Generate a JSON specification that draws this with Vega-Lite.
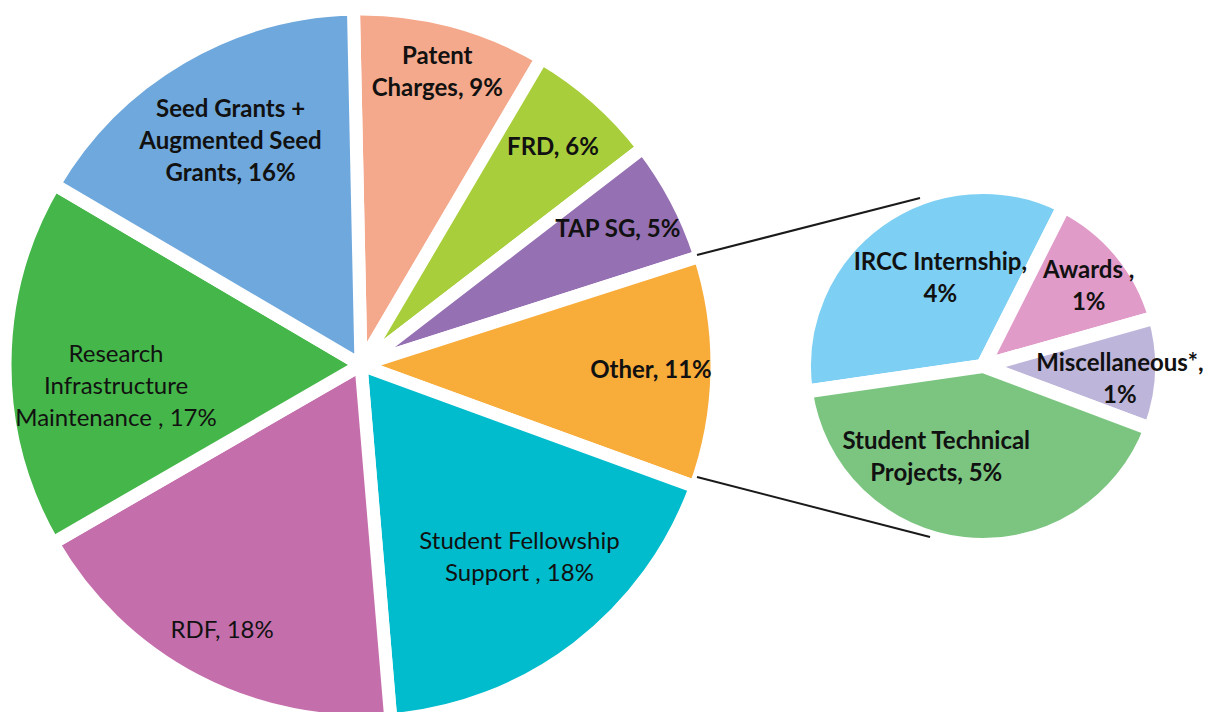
{
  "$schema": "https://vega.github.io/schema/vega-lite/v6.json",
  "width": 1226,
  "height": 712,
  "autosize": "none",
  "padding": 0,
  "background": "white",
  "config": {"view": {"stroke": null}, "text": {"font": "Lato", "fontSize": 24, "lineHeight": 32, "color": "#111111", "align": "center", "baseline": "middle", "lineBreak": "\n"}},
  "datasets": {
    "main": [
      {"pie": "Main", "rank": 1, "item": "Patent Charges", "label": "Patent\nCharges, 9%", "value": 8.8},
      {"pie": "Main", "rank": 2, "item": "FRD", "label": "FRD, 6%", "value": 6.1},
      {"pie": "Main", "rank": 3, "item": "TAP SG", "label": "TAP SG, 5%", "value": 5.5},
      {"pie": "Main", "rank": 4, "item": "Other", "label": "Other, 11%", "value": 10.5},
      {"pie": "Main", "rank": 5, "item": "Student Fellowship Support", "label": "Student Fellowship\nSupport , 18%", "value": 18.1},
      {"pie": "Main", "rank": 6, "item": "RDF", "label": "RDF, 18%", "value": 18.0},
      {"pie": "Main", "rank": 7, "item": "Research Infrastructure Maintenance", "label": "Research\nInfrastructure\nMaintenance , 17%", "value": 16.8},
      {"pie": "Main", "rank": 8, "item": "Seed Grants + Augmented Seed Grants", "label": "Seed Grants +\nAugmented Seed\nGrants, 16%", "value": 16.2}
    ],
    "detail": [
      {"pie": "Detail", "rank": 1, "item": "IRCC Internship", "label": "IRCC Internship,\n4%", "value": 3.82},
      {"pie": "Detail", "rank": 2, "item": "Awards", "label": "Awards ,\n1%", "value": 1.45},
      {"pie": "Detail", "rank": 3, "item": "Miscellaneous*", "label": "Miscellaneous*,\n1%", "value": 1.11},
      {"pie": "Detail", "rank": 4, "item": "Student Technical Projects", "label": "Student Technical\nProjects, 5%", "value": 4.62}
    ],
    "upperLink": [
      {"anchor": "Other slice, upper corner"},
      {"anchor": "Detail pie, top"}
    ],
    "lowerLink": [
      {"anchor": "Other slice, lower corner"},
      {"anchor": "Detail pie, bottom"}
    ]
  },
  "resolve": {"scale": {"x": "independent", "y": "independent", "theta": "independent"}},
  "layer": [
    {
      "data": {"name": "main"},
      "mark": {"type": "arc", "radius": 356, "stroke": "white", "strokeWidth": 13, "strokeJoin": "round"},
      "encoding": {
        "x": {"field": "pie", "type": "nominal", "scale": {"type": "point", "domain": ["Main", "Detail"], "range": [361, 983], "padding": 0}, "axis": null},
        "y": {"field": "pie", "type": "nominal", "scale": {"type": "point", "domain": ["Main", "Detail"], "range": [365, 366], "padding": 0}, "axis": null},
        "theta": {"field": "value", "type": "quantitative", "stack": true, "scale": {"range": [-0.021, 6.262]}},
        "order": {"field": "rank", "type": "quantitative"},
        "color": {
          "field": "item", "type": "nominal", "legend": null,
          "scale": {
            "domain": ["Patent Charges", "FRD", "TAP SG", "Other", "Student Fellowship Support", "RDF", "Research Infrastructure Maintenance", "Seed Grants + Augmented Seed Grants", "IRCC Internship", "Awards", "Miscellaneous*", "Student Technical Projects"],
            "range": ["#F5A98C", "#A8CE3B", "#9570B3", "#F8AC3A", "#00BCCC", "#C46FAC", "#45B649", "#6FA8DC", "#7DCFF3", "#E09BC8", "#BEB5DA", "#7CC581"]
          }
        }
      }
    },
    {
      "data": {"name": "detail"},
      "mark": {"type": "arc", "radius": 179, "stroke": "white", "strokeWidth": 14, "strokeJoin": "round"},
      "encoding": {
        "x": {"field": "pie", "type": "nominal", "scale": {"type": "point", "domain": ["Main", "Detail"], "range": [361, 983], "padding": 0}, "axis": null},
        "y": {"field": "pie", "type": "nominal", "scale": {"type": "point", "domain": ["Main", "Detail"], "range": [365, 366], "padding": 0}, "axis": null},
        "theta": {"field": "value", "type": "quantitative", "stack": true, "scale": {"range": [4.569, 10.852]}},
        "order": {"field": "rank", "type": "quantitative"},
        "color": {"field": "item", "type": "nominal", "legend": null}
      }
    },
    {
      "data": {"name": "main"},
      "mark": {"type": "text", "radius": 290, "fontWeight": "bold"},
      "encoding": {
        "x": {"field": "pie", "type": "nominal", "scale": {"type": "point", "domain": ["Main", "Detail"], "range": [361, 983], "padding": 0}, "axis": null},
        "y": {"field": "pie", "type": "nominal", "scale": {"type": "point", "domain": ["Main", "Detail"], "range": [365, 366], "padding": 0}, "axis": null},
        "theta": {"field": "value", "type": "quantitative", "stack": true, "scale": {"range": [-0.021, 6.262]}},
        "order": {"field": "rank", "type": "quantitative"},
        "detail": {"field": "item", "type": "nominal"},
        "text": {"condition": {"test": "indexof(['FRD','TAP SG','Other'], datum.item) >= 0", "field": "label"}, "value": ""}
      }
    },
    {
      "data": {"name": "main"},
      "mark": {"type": "text", "radius": 302, "fontWeight": "bold", "dy": -16},
      "encoding": {
        "x": {"field": "pie", "type": "nominal", "scale": {"type": "point", "domain": ["Main", "Detail"], "range": [361, 983], "padding": 0}, "axis": null},
        "y": {"field": "pie", "type": "nominal", "scale": {"type": "point", "domain": ["Main", "Detail"], "range": [365, 366], "padding": 0}, "axis": null},
        "theta": {"field": "value", "type": "quantitative", "stack": true, "scale": {"range": [-0.021, 6.262]}},
        "order": {"field": "rank", "type": "quantitative"},
        "detail": {"field": "item", "type": "nominal"},
        "text": {"condition": {"test": "datum.item === 'Patent Charges'", "field": "label"}, "value": ""}
      }
    },
    {
      "data": {"name": "main"},
      "mark": {"type": "text", "radius": 300, "fontWeight": "normal"},
      "encoding": {
        "x": {"field": "pie", "type": "nominal", "scale": {"type": "point", "domain": ["Main", "Detail"], "range": [361, 983], "padding": 0}, "axis": null},
        "y": {"field": "pie", "type": "nominal", "scale": {"type": "point", "domain": ["Main", "Detail"], "range": [365, 366], "padding": 0}, "axis": null},
        "theta": {"field": "value", "type": "quantitative", "stack": true, "scale": {"range": [-0.021, 6.262]}},
        "order": {"field": "rank", "type": "quantitative"},
        "detail": {"field": "item", "type": "nominal"},
        "text": {"condition": {"test": "datum.item === 'RDF'", "field": "label"}, "value": ""}
      }
    },
    {
      "data": {"name": "main"},
      "mark": {"type": "text", "radius": 261, "fontWeight": "normal", "dy": -30},
      "encoding": {
        "x": {"field": "pie", "type": "nominal", "scale": {"type": "point", "domain": ["Main", "Detail"], "range": [361, 983], "padding": 0}, "axis": null},
        "y": {"field": "pie", "type": "nominal", "scale": {"type": "point", "domain": ["Main", "Detail"], "range": [365, 366], "padding": 0}, "axis": null},
        "theta": {"field": "value", "type": "quantitative", "stack": true, "scale": {"range": [-0.021, 6.262]}},
        "order": {"field": "rank", "type": "quantitative"},
        "detail": {"field": "item", "type": "nominal"},
        "text": {"condition": {"test": "datum.item === 'Student Fellowship Support'", "field": "label"}, "value": ""}
      }
    },
    {
      "data": {"name": "main"},
      "mark": {"type": "text", "radius": 245, "fontWeight": "normal", "dy": -9},
      "encoding": {
        "x": {"field": "pie", "type": "nominal", "scale": {"type": "point", "domain": ["Main", "Detail"], "range": [361, 983], "padding": 0}, "axis": null},
        "y": {"field": "pie", "type": "nominal", "scale": {"type": "point", "domain": ["Main", "Detail"], "range": [365, 366], "padding": 0}, "axis": null},
        "theta": {"field": "value", "type": "quantitative", "stack": true, "scale": {"range": [-0.021, 6.262]}},
        "order": {"field": "rank", "type": "quantitative"},
        "detail": {"field": "item", "type": "nominal"},
        "text": {"condition": {"test": "datum.item === 'Research Infrastructure Maintenance'", "field": "label"}, "value": ""}
      }
    },
    {
      "data": {"name": "main"},
      "mark": {"type": "text", "radius": 258, "fontWeight": "bold", "dy": -32},
      "encoding": {
        "x": {"field": "pie", "type": "nominal", "scale": {"type": "point", "domain": ["Main", "Detail"], "range": [361, 983], "padding": 0}, "axis": null},
        "y": {"field": "pie", "type": "nominal", "scale": {"type": "point", "domain": ["Main", "Detail"], "range": [365, 366], "padding": 0}, "axis": null},
        "theta": {"field": "value", "type": "quantitative", "stack": true, "scale": {"range": [-0.021, 6.262]}},
        "order": {"field": "rank", "type": "quantitative"},
        "detail": {"field": "item", "type": "nominal"},
        "text": {"condition": {"test": "datum.item === 'Seed Grants + Augmented Seed Grants'", "field": "label"}, "value": ""}
      }
    },
    {
      "data": {"name": "detail"},
      "mark": {"type": "text", "radius": 97, "fontWeight": "bold", "dy": -24, "dx": 14},
      "encoding": {
        "x": {"field": "pie", "type": "nominal", "scale": {"type": "point", "domain": ["Main", "Detail"], "range": [361, 983], "padding": 0}, "axis": null},
        "y": {"field": "pie", "type": "nominal", "scale": {"type": "point", "domain": ["Main", "Detail"], "range": [365, 366], "padding": 0}, "axis": null},
        "theta": {"field": "value", "type": "quantitative", "stack": true, "scale": {"range": [4.569, 10.852]}},
        "order": {"field": "rank", "type": "quantitative"},
        "detail": {"field": "item", "type": "nominal"},
        "text": {"condition": {"test": "datum.item === 'IRCC Internship'", "field": "label"}, "value": ""}
      }
    },
    {
      "data": {"name": "detail"},
      "mark": {"type": "text", "radius": 100, "fontWeight": "bold", "dy": -23, "dx": -36},
      "encoding": {
        "x": {"field": "pie", "type": "nominal", "scale": {"type": "point", "domain": ["Main", "Detail"], "range": [361, 983], "padding": 0}, "axis": null},
        "y": {"field": "pie", "type": "nominal", "scale": {"type": "point", "domain": ["Main", "Detail"], "range": [365, 366], "padding": 0}, "axis": null},
        "theta": {"field": "value", "type": "quantitative", "stack": true, "scale": {"range": [4.569, 10.852]}},
        "order": {"field": "rank", "type": "quantitative"},
        "detail": {"field": "item", "type": "nominal"},
        "text": {"condition": {"test": "datum.item === 'Student Technical Projects'", "field": "label"}, "value": ""}
      }
    },
    {
      "data": {"name": "detail"},
      "mark": {"type": "text", "radius": 137, "fontWeight": "bold", "dy": -8},
      "encoding": {
        "x": {"field": "pie", "type": "nominal", "scale": {"type": "point", "domain": ["Main", "Detail"], "range": [361, 983], "padding": 0}, "axis": null},
        "y": {"field": "pie", "type": "nominal", "scale": {"type": "point", "domain": ["Main", "Detail"], "range": [365, 366], "padding": 0}, "axis": null},
        "theta": {"field": "value", "type": "quantitative", "stack": true, "scale": {"range": [4.569, 10.852]}},
        "order": {"field": "rank", "type": "quantitative"},
        "detail": {"field": "item", "type": "nominal"},
        "text": {"condition": {"test": "indexof(['Awards','Miscellaneous*'], datum.item) >= 0", "field": "label"}, "value": ""}
      }
    },
    {
      "data": {"name": "upperLink"},
      "mark": {"type": "line", "color": "#1a1a1a", "strokeWidth": 2},
      "encoding": {
        "x": {"field": "anchor", "type": "nominal", "sort": null, "scale": {"type": "point", "domain": ["Other slice, upper corner", "Detail pie, top"], "range": [697, 920], "padding": 0}, "axis": null},
        "y": {"field": "anchor", "type": "nominal", "sort": null, "scale": {"type": "point", "domain": ["Other slice, upper corner", "Detail pie, top"], "range": [255, 198], "padding": 0}, "axis": null}
      }
    },
    {
      "data": {"name": "lowerLink"},
      "mark": {"type": "line", "color": "#1a1a1a", "strokeWidth": 2},
      "encoding": {
        "x": {"field": "anchor", "type": "nominal", "sort": null, "scale": {"type": "point", "domain": ["Other slice, lower corner", "Detail pie, bottom"], "range": [697, 930], "padding": 0}, "axis": null},
        "y": {"field": "anchor", "type": "nominal", "sort": null, "scale": {"type": "point", "domain": ["Other slice, lower corner", "Detail pie, bottom"], "range": [477, 537], "padding": 0}, "axis": null}
      }
    }
  ]
}
